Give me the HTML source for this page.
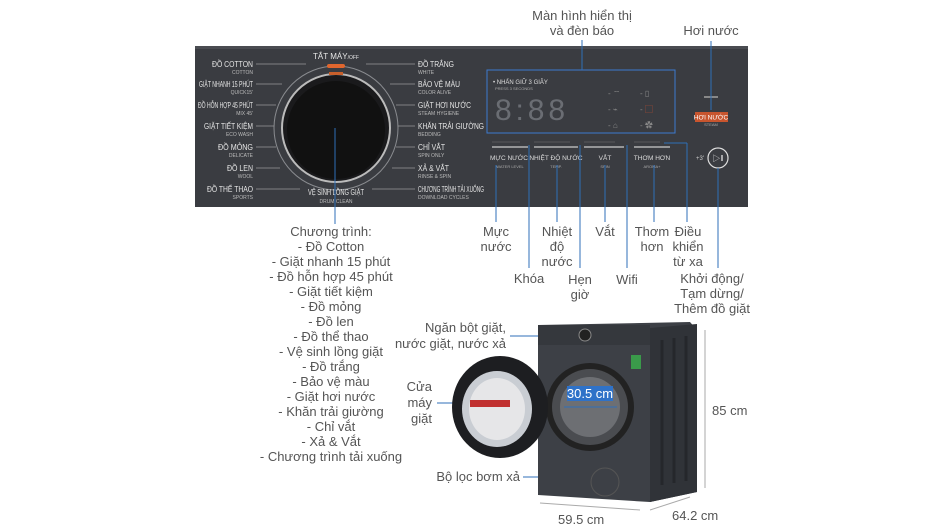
<!DOCTYPE html>
<html><head><meta charset="utf-8"><style>
html,body{margin:0;padding:0;background:#fff}
svg{display:block}
text{font-family:"Liberation Sans","Noto Sans CJK SC",sans-serif}
</style></head><body>
<svg width="942" height="530" viewBox="0 0 942 530" xmlns="http://www.w3.org/2000/svg">
<rect width="942" height="530" fill="#fff"/>
<!-- panel -->
<rect x="195" y="46" width="553" height="161" fill="#3a3c41"/>
<rect x="195" y="46" width="553" height="3" fill="#4a4c51"/>
<!-- dial -->
<circle cx="336" cy="128" r="62" fill="none" stroke="#8a8c90" stroke-width="1"/>
<circle cx="336" cy="128" r="54" fill="#1a1a1c" stroke="#bbb" stroke-width="2"/>
<circle cx="336" cy="130" r="49" fill="#111"/>
<rect x="327" y="64" width="18" height="4" rx="2" fill="#e0662e"/>
<rect x="329" y="72" width="14" height="3" fill="#c8602c"/>
<g font-size="8" fill="#e6e6e6" lengthAdjust="spacingAndGlyphs">
<text x="336" y="59" text-anchor="middle">TẮT MÁY<tspan font-size="5">/OFF</tspan></text>
<g text-anchor="end">
<text x="253" y="67" textLength="41" lengthAdjust="spacingAndGlyphs">ĐỒ COTTON</text>
<text x="253" y="87" textLength="54" lengthAdjust="spacingAndGlyphs">GIẶT NHANH 15 PHÚT</text>
<text x="253" y="108" textLength="55" lengthAdjust="spacingAndGlyphs">ĐỒ HỖN HỢP 45 PHÚT</text>
<text x="253" y="129" textLength="49" lengthAdjust="spacingAndGlyphs">GIẶT TIẾT KIỆM</text>
<text x="253" y="150" textLength="35" lengthAdjust="spacingAndGlyphs">ĐỒ MỎNG</text>
<text x="253" y="171" textLength="26" lengthAdjust="spacingAndGlyphs">ĐỒ LEN</text>
<text x="253" y="192" textLength="46" lengthAdjust="spacingAndGlyphs">ĐỒ THỂ THAO</text>
</g>
<text x="418" y="67" textLength="36" lengthAdjust="spacingAndGlyphs">ĐỒ TRẮNG</text>
<text x="418" y="87" textLength="42" lengthAdjust="spacingAndGlyphs">BẢO VỆ MÀU</text>
<text x="418" y="108" textLength="53" lengthAdjust="spacingAndGlyphs">GIẶT HƠI NƯỚC</text>
<text x="418" y="129" textLength="66" lengthAdjust="spacingAndGlyphs">KHĂN TRẢI GIƯỜNG</text>
<text x="418" y="150" textLength="27" lengthAdjust="spacingAndGlyphs">CHỈ VẮT</text>
<text x="418" y="171" textLength="31" lengthAdjust="spacingAndGlyphs">XẢ &amp; VẮT</text>
<text x="418" y="192" textLength="66" lengthAdjust="spacingAndGlyphs">CHƯƠNG TRÌNH TẢI XUỐNG</text>
<text x="336" y="195" text-anchor="middle" textLength="56" lengthAdjust="spacingAndGlyphs">VỆ SINH LỒNG GIẶT</text>
</g>
<g font-size="5" fill="#bbb">
<g text-anchor="end"><text x="253" y="74">COTTON</text><text x="253" y="94">QUICK15'</text><text x="253" y="115">MIX 45'</text><text x="253" y="136">ECO WASH</text><text x="253" y="157">DELICATE</text><text x="253" y="178">WOOL</text><text x="253" y="199">SPORTS</text></g>
<text x="418" y="74">WHITE</text><text x="418" y="94">COLOR ALIVE</text><text x="418" y="115">STEAM HYGIENE</text><text x="418" y="136">BEDDING</text><text x="418" y="157">SPIN ONLY</text><text x="418" y="178">RINSE &amp; SPIN</text><text x="418" y="199">DOWNLOAD CYCLES</text>
<text x="336" y="203" text-anchor="middle">DRUM CLEAN</text>
</g>
<g stroke="#999" stroke-width="0.8">
<line x1="256" y1="64" x2="306" y2="64"/><line x1="256" y1="84" x2="282" y2="84"/><line x1="256" y1="105" x2="276" y2="105"/><line x1="256" y1="126" x2="274" y2="126"/><line x1="256" y1="147" x2="276" y2="147"/><line x1="256" y1="168" x2="280" y2="168"/><line x1="256" y1="189" x2="300" y2="189"/>
<line x1="366" y1="64" x2="415" y2="64"/><line x1="390" y1="84" x2="415" y2="84"/><line x1="396" y1="105" x2="415" y2="105"/><line x1="398" y1="126" x2="415" y2="126"/><line x1="396" y1="147" x2="415" y2="147"/><line x1="392" y1="168" x2="415" y2="168"/><line x1="372" y1="189" x2="415" y2="189"/>
</g>
<!-- display -->
<rect x="487" y="70" width="188" height="63" fill="none" stroke="#3c7ad0" stroke-width="1"/>
<text x="493" y="84" font-size="6" fill="#ddd">• NHẤN GIỮ 3 GIÂY</text>
<text x="495" y="90" font-size="4" fill="#aaa">PRESS 3 SECONDS</text>
<text x="495" y="120" font-size="30" fill="#6a6d73" font-family="Liberation Mono" textLength="70" lengthAdjust="spacing">8:88</text>
<g fill="#888" font-size="8"><text x="608" y="96">- ⌔</text><text x="608" y="112">- ⌁</text><text x="608" y="128">- ⌂</text><text x="640" y="96">- ▯</text><text x="640" y="112">- <tspan fill="#c05030">▢</tspan></text><text x="640" y="128">- ✿</text></g>
<!-- buttons -->
<g stroke="#ccc" stroke-width="1.2"><line x1="492" y1="147" x2="528" y2="147"/><line x1="534" y1="147" x2="578" y2="147"/><line x1="584" y1="147" x2="624" y2="147"/><line x1="634" y1="147" x2="670" y2="147"/></g>
<g stroke="#777" stroke-width="0.6"><line x1="492" y1="142" x2="520" y2="142"/><line x1="534" y1="142" x2="570" y2="142"/><line x1="584" y1="142" x2="615" y2="142"/><line x1="634" y1="142" x2="660" y2="142"/></g>
<g font-size="6.5" fill="#ddd" text-anchor="middle"><text x="509" y="160">MỰC NƯỚC</text><text x="556" y="160">NHIỆT ĐỘ NƯỚC</text><text x="605" y="160">VẮT</text><text x="652" y="160">THƠM HƠN</text></g>
<g font-size="4" fill="#aaa" text-anchor="middle"><text x="510" y="168">WATER LEVEL</text><text x="556" y="168">TEMP.</text><text x="605" y="168">SPIN</text><text x="652" y="168">AROMA+</text><text x="711" y="126">STEAM</text></g>
<rect x="695" y="112" width="33" height="10" fill="#c8552e"/>
<text x="711" y="119.5" font-size="6.5" fill="#fff" text-anchor="middle">HƠI NƯỚC</text>
<rect x="704" y="96" width="14" height="2" fill="#888"/>
<circle cx="718" cy="158" r="10" fill="none" stroke="#ddd" stroke-width="1.2"/>
<text x="718" y="161" font-size="8" fill="#ddd" text-anchor="middle">▷ǁ</text>
<text x="704" y="160" font-size="6" fill="#ccc" text-anchor="end">+3'</text>
<!-- leader lines -->
<g stroke="#2f6fb8" stroke-width="1" fill="none">
<line x1="582" y1="40" x2="582" y2="70"/>
<line x1="711" y1="41" x2="711" y2="110"/>
<line x1="335" y1="128" x2="335" y2="224"/>
<line x1="496" y1="165" x2="496" y2="222"/>
<line x1="529" y1="145" x2="529" y2="268"/>
<line x1="557" y1="165" x2="557" y2="222"/>
<line x1="580" y1="145" x2="580" y2="268"/>
<line x1="605" y1="165" x2="605" y2="222"/>
<line x1="627" y1="145" x2="627" y2="268"/>
<line x1="654" y1="165" x2="654" y2="222"/>
<line x1="664" y1="143" x2="687" y2="143"/><line x1="687" y1="143" x2="687" y2="222"/>
<line x1="718" y1="168" x2="718" y2="268"/>
<line x1="510" y1="336" x2="555" y2="336"/>
<line x1="437" y1="403" x2="484" y2="403"/>
<line x1="523" y1="477" x2="615" y2="477"/>
</g>
<!-- labels -->
<g font-size="13" fill="#555" text-anchor="middle">
<text x="582" y="20">Màn hình hiển thị</text><text x="582" y="35">và đèn báo</text>
<text x="711" y="35">Hơi nước</text>
<text x="496" y="236">Mực</text><text x="496" y="251">nước</text>
<text x="529" y="283">Khóa</text>
<text x="557" y="236">Nhiệt</text><text x="557" y="251">độ</text><text x="557" y="266">nước</text>
<text x="580" y="284">Hẹn</text><text x="580" y="299">giờ</text>
<text x="605" y="236">Vắt</text>
<text x="627" y="284">Wifi</text>
<text x="652" y="236">Thơm</text><text x="652" y="251">hơn</text>
<text x="688" y="236">Điều</text><text x="688" y="251">khiển</text><text x="688" y="266">từ xa</text>
<text x="712" y="283">Khởi động/</text><text x="712" y="298">Tạm dừng/</text><text x="712" y="313">Thêm đồ giặt</text>
<text x="331" y="236">Chương trình:</text>
<text x="331" y="251">- Đồ Cotton</text><text x="331" y="266">- Giặt nhanh 15 phút</text><text x="331" y="281">- Đồ hỗn hợp 45 phút</text><text x="331" y="296">- Giặt tiết kiệm</text><text x="331" y="311">- Đồ mỏng</text><text x="331" y="326">- Đồ len</text><text x="331" y="341">- Đồ thể thao</text><text x="331" y="356">- Vệ sinh lồng giặt</text><text x="331" y="371">- Đồ trắng</text><text x="331" y="386">- Bảo vệ màu</text><text x="331" y="401">- Giặt hơi nước</text><text x="331" y="416">- Khăn trải giường</text><text x="331" y="431">- Chỉ vắt</text><text x="331" y="446">- Xả &amp; Vắt</text><text x="331" y="461">- Chương trình tải xuống</text>
</g>
<g font-size="13" fill="#555" text-anchor="end">
<text x="506" y="332">Ngăn bột giặt,</text><text x="506" y="348">nước giặt, nước xả</text>
<text x="432" y="391">Cửa</text><text x="432" y="407">máy</text><text x="432" y="423">giặt</text>
<text x="520" y="481">Bộ lọc bơm xả</text>
</g>
<!-- machine -->
<polygon points="538,325 690,322 697,330 697,492 650,502 538,495" fill="#3d4046"/>
<polygon points="650,328 697,324 697,492 650,502" fill="#303338"/>
<g stroke="#25272b" stroke-width="3"><line x1="662" y1="340" x2="662" y2="485"/><line x1="674" y1="338" x2="674" y2="483"/><line x1="686" y1="336" x2="686" y2="481"/></g>
<rect x="538" y="325" width="112" height="20" fill="#35383d"/>
<circle cx="585" cy="335" r="6" fill="#222" stroke="#888"/>
<circle cx="590" cy="407" r="44" fill="#222"/>
<circle cx="590" cy="407" r="38" fill="#4a4c50"/>
<circle cx="590" cy="407" r="30" fill="#6d6f73"/>
<circle cx="605" cy="482" r="14" fill="none" stroke="#555"/>
<rect x="631" y="355" width="10" height="14" fill="#3a9a4a"/>
<!-- open door -->
<ellipse cx="500" cy="407" rx="48" ry="51" fill="#1d1e21"/>
<ellipse cx="497" cy="409" rx="35" ry="38" fill="#c9cdd3"/>
<ellipse cx="497" cy="409" rx="28" ry="31" fill="#e6e6e8"/>
<rect x="470" y="400" width="40" height="7" fill="#c03030"/>
<rect x="567" y="386" width="46" height="15" fill="#2f72c8"/>
<text x="590" y="398" font-size="13" fill="#fff" text-anchor="middle">30.5 cm</text>
<line x1="564" y1="407" x2="617" y2="407" stroke="#2f6fb8"/>
<!-- dimensions -->
<g stroke="#aaa" stroke-width="1"><line x1="705" y1="330" x2="705" y2="488"/><line x1="540" y1="503" x2="640" y2="510"/><line x1="650" y1="510" x2="690" y2="497"/></g>
<g font-size="13" fill="#555"><text x="712" y="415">85 cm</text><text x="558" y="524">59.5 cm</text><text x="672" y="520">64.2 cm</text></g>
</svg>
</body></html>
